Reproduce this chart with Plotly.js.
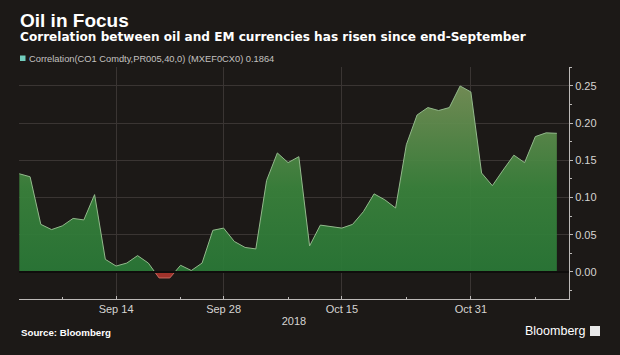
<!DOCTYPE html>
<html><head><meta charset="utf-8">
<script src="https://cdn.plot.ly/plotly-3.0.1.min.js"></script>
<style>html,body{margin:0;padding:0;background:#1c1917;}#chart{width:620px;height:355px;}</style>
</head><body><div id="chart"></div>
<script>
// Business days, 3 Sep 2018 - 12 Nov 2018
const dates = [
 '2018-09-03','2018-09-04','2018-09-05','2018-09-06','2018-09-07',
 '2018-09-10','2018-09-11','2018-09-12','2018-09-13','2018-09-14',
 '2018-09-17','2018-09-18','2018-09-19','2018-09-20','2018-09-21',
 '2018-09-24','2018-09-25','2018-09-26','2018-09-27','2018-09-28',
 '2018-10-01','2018-10-02','2018-10-03','2018-10-04','2018-10-05',
 '2018-10-08','2018-10-09','2018-10-10','2018-10-11','2018-10-12',
 '2018-10-15','2018-10-16','2018-10-17','2018-10-18','2018-10-19',
 '2018-10-22','2018-10-23','2018-10-24','2018-10-25','2018-10-26',
 '2018-10-29','2018-10-30','2018-10-31','2018-11-01','2018-11-02',
 '2018-11-05','2018-11-06','2018-11-07','2018-11-08','2018-11-09',
 '2018-11-12'
];
const correlation = [
 0.132,0.128,0.064,0.057,0.062,
 0.072,0.070,0.104,0.017,0.008,
 0.012,0.022,0.012,-0.008,-0.008,
 0.009,0.002,0.012,0.056,0.059,
 0.041,0.033,0.031,0.123,0.160,
 0.147,0.155,0.035,0.063,0.061,
 0.059,0.064,0.081,0.105,0.097,
 0.086,0.171,0.211,0.221,0.217,
 0.221,0.250,0.242,0.133,0.116,
 0.137,0.157,0.147,0.182,0.187,
 0.1864
];
const majorTickDates = ['2018-09-14','2018-09-28','2018-10-15','2018-10-31'];
const majorTickLabels = ['Sep 14','Sep 28','Oct 15','Oct 31'];
const minorTickDates = ['2018-09-07','2018-09-24','2018-10-08','2018-10-23','2018-11-08'];
const yTickValues = [0, 0.05, 0.10, 0.15, 0.20, 0.25];
const xAxisTitle = '2018';
const legendLabel = 'Correlation(CO1 Comdty,PR005,40,0) (MXEF0CX0) 0.1864';

// x positions = business-day index
const xs = dates.map((d, i) => i);
const tickVals = majorTickDates.map(d => dates.indexOf(d));
const minorVals = minorTickDates.map(d => dates.indexOf(d));

// split into positive (green) and negative (red) parts with zero crossings
const gx = [], gy = [], rx = [], ry = [];
for (let i = 0; i < correlation.length; i++) {
  const v = correlation[i];
  if (i > 0) {
    const p = correlation[i - 1];
    if ((p >= 0 && v < 0) || (p < 0 && v >= 0)) {
      const xc = (i - 1) + p / (p - v);
      gx.push(xc); gy.push(0);
      rx.push(xc); ry.push(0);
      if (v < 0) { gx.push(null); gy.push(null); }
      else { rx.push(null); ry.push(null); }
    }
  }
  if (v >= 0) { gx.push(xs[i]); gy.push(v); }
  else { rx.push(xs[i]); ry.push(v); }
}

const traces = [
  {
    type: 'scatter', mode: 'lines', x: gx, y: gy,
    fill: 'tozeroy',
    fillgradient: {type: 'vertical', colorscale: [
      [0, 'rgba(42,121,55,0.93)'], [0.45, 'rgba(58,131,60,0.93)'], [1, 'rgba(118,146,88,0.93)']
    ]},
    line: {color: '#93b98c', width: 1},
    hoverinfo: 'skip'
  },
  {
    type: 'scatter', mode: 'lines', x: rx, y: ry,
    fill: 'tozeroy', fillcolor: 'rgba(168,52,44,0.95)',
    line: {color: '#c76a60', width: 1},
    hoverinfo: 'skip'
  }
];

const L = 19, R = 51, T = 67, B = 56, W = 620, H = 355;
const pw = W - L - R, ph = H - T - B;
const px = v => (v - L) / pw;
const py = v => (H - B - v) / ph;
const grid = '#3a3533', axisCol = '#bdbab8', txt = '#d6d4d2';
const fam = '"Liberation Sans", Arial, sans-serif';
const famWide = '"DejaVu Sans", "Liberation Sans", sans-serif';

const layout = {
  width: W, height: H,
  margin: {l: L, r: R, t: T, b: B, pad: 0},
  paper_bgcolor: '#1c1917', plot_bgcolor: '#1c1917',
  font: {family: fam, color: txt, size: 11},
  showlegend: false,
  xaxis: {
    range: [-0.03, 51.13], tickmode: 'array', tickvals: tickVals, ticktext: majorTickLabels,
    ticks: 'inside', ticklen: 3, tickcolor: axisCol, tickwidth: 1,
    showline: true, linecolor: axisCol, linewidth: 1,
    showgrid: true, gridcolor: grid, gridwidth: 1, zeroline: false,
    tickfont: {size: 11, color: txt},
    title: {text: xAxisTitle, font: {size: 11, color: txt}, standoff: 3},
    minor: {tickmode: 'array', tickvals: minorVals, ticks: 'inside', ticklen: 2, tickcolor: axisCol, showgrid: false},
    fixedrange: true
  },
  yaxis: {
    side: 'right', range: [-0.0363, 0.2755],
    tickmode: 'array', tickvals: yTickValues, tickformat: '.2f',
    ticks: 'outside', ticklen: 3, tickcolor: axisCol, tickwidth: 1,
    showline: true, linecolor: axisCol, linewidth: 1,
    showgrid: true, gridcolor: grid, gridwidth: 1, zeroline: false,
    tickfont: {size: 11, color: txt},
    minor: {tickmode: 'linear', tick0: 0.025, dtick: 0.05, ticks: 'outside', ticklen: 2, tickcolor: axisCol, showgrid: false},
    fixedrange: true
  },
  shapes: [
    {type: 'line', xref: 'paper', x0: 0, x1: 1, yref: 'y', y0: 0, y1: 0,
     line: {color: '#0f0d0c', width: 2}, layer: 'above'},
    {type: 'rect', xref: 'paper', yref: 'paper', x0: px(20), x1: px(25.5), y0: py(61), y1: py(55.5),
     fillcolor: '#72cdbd', line: {width: 0}},
    {type: 'rect', xref: 'paper', yref: 'paper', x0: px(590), x1: px(600), y0: py(336), y1: py(326),
     fillcolor: '#e8e8e8', line: {width: 0}}
  ],
  annotations: [
    {text: '<b>Oil in Focus</b>', xref: 'paper', yref: 'paper', x: px(18), y: py(20.5),
     xanchor: 'left', yanchor: 'middle', showarrow: false, font: {size: 19, color: '#ffffff', family: fam}},
    {text: '<b>Correlation between oil and EM currencies has risen since end-September</b>',
     xref: 'paper', yref: 'paper', x: px(18), y: py(37.5), xanchor: 'left', yanchor: 'middle',
     showarrow: false, font: {size: 12.1, color: '#ffffff', family: famWide}},
    {text: legendLabel, xref: 'paper', yref: 'paper', x: px(26.5), y: py(58.5), xanchor: 'left', yanchor: 'middle',
     showarrow: false, font: {size: 9.3, color: '#c4c2c0', family: fam}},
    {text: '<b>Source: Bloomberg</b>', xref: 'paper', yref: 'paper', x: px(19), y: py(332), xanchor: 'left', yanchor: 'middle',
     showarrow: false, font: {size: 9.7, color: '#ffffff', family: fam}},
    {text: 'Bloomberg', xref: 'paper', yref: 'paper', x: px(587), y: py(331), xanchor: 'right', yanchor: 'middle',
     showarrow: false, font: {size: 12.5, color: '#ffffff', family: fam}}
  ]
};

Plotly.newPlot('chart', traces, layout, {displayModeBar: false, staticPlot: true});
</script>
</body></html>
